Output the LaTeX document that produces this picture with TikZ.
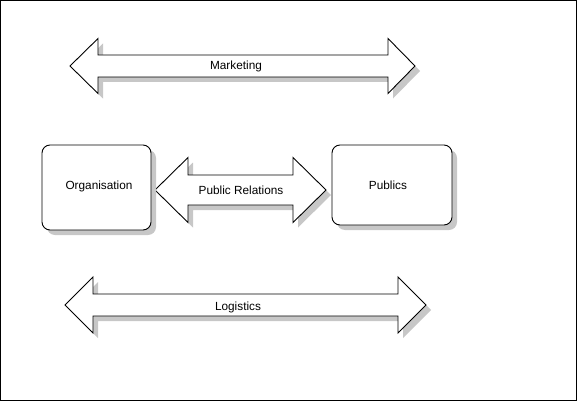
\documentclass[tikz,border=0pt]{standalone}
\usepackage{fontspec}
\setmainfont{Liberation Sans}
\begin{document}
\begin{tikzpicture}[x=1pt,y=-1pt,
  shade col/.style={fill=black!22,draw=none},
  shapeline/.style={draw=black,fill=white,line width=0.9pt,line join=miter},
  lbl/.style={font=\fontsize{11.8}{14}\selectfont,inner sep=0pt,anchor=base}]
\useasboundingbox (0,0) rectangle (577,401);
\draw[line width=0.9pt] (0.5,0.5) rectangle (576.5,400.5);
% double arrow: tipL, baseL, baseR, tipR, yc, headhalf, shafthalf
\newcommand{\dblarrowshape}[7]{%
  (#1,#5) -- (#2,#5-#6) -- (#2,#5-#7) -- (#3,#5-#7) -- (#3,#5-#6) -- (#4,#5)
  -- (#3,#5+#6) -- (#3,#5+#7) -- (#2,#5+#7) -- (#2,#5+#6) -- cycle}
\newcommand{\dblarrow}[7]{%
  \fill[shade col,shift={(5,5)}] \dblarrowshape{#1}{#2}{#3}{#4}{#5}{#6}{#7};
  \path[shapeline] \dblarrowshape{#1}{#2}{#3}{#4}{#5}{#6}{#7};}
% Marketing
\dblarrow{70}{98}{388}{415}{66}{27.5}{11}
\node[lbl] (mkt) at (236,70) {Marketing};
% Public relations
\dblarrow{155}{188}{293}{326}{190}{32.5}{15}
\node[lbl] (pr) at (241,194.5) {Public Relations};
% Logistics
\dblarrow{65}{93}{398}{426}{305}{28}{11}
\node[lbl] (log) at (238,310) {Logistics};
% boxes
\fill[shade col,rounded corners=8pt] (47,150) rectangle (156,235);
\draw[shapeline,rounded corners=8pt] (42,145) rectangle (151,230);
\node[lbl] (org) at (99,189) {Organisation};
\fill[shade col,rounded corners=8pt] (337,150) rectangle (457,230);
\draw[shapeline,rounded corners=8pt] (332,145) rectangle (452,225);
\node[lbl] (pub) at (388,189) {Publics};
\end{tikzpicture}
\end{document}
